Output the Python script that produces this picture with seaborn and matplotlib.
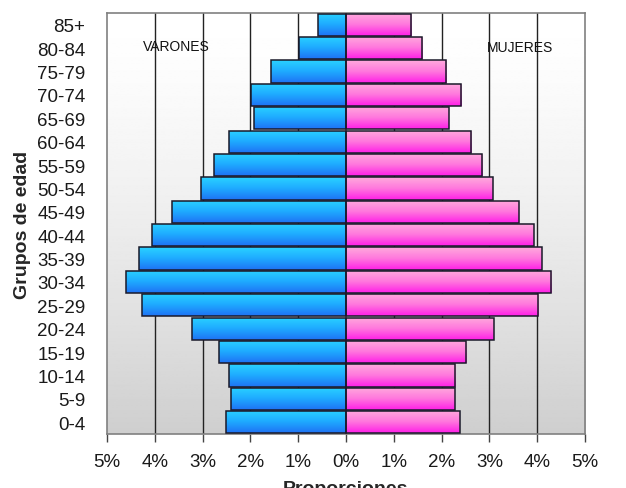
import numpy as np
import pandas as pd
import matplotlib
matplotlib.use("Agg")
import matplotlib.pyplot as plt
from matplotlib.colors import LinearSegmentedColormap
import seaborn as sns

# age groups, top to bottom as drawn
groups = ["85+", "80-84", "75-79", "70-74", "65-69", "60-64", "55-59", "50-54",
          "45-49", "40-44", "35-39", "30-34", "25-29", "20-24", "15-19",
          "10-14", "5-9", "0-4"]
varones = [0.59, 0.99, 1.56, 1.99, 1.93, 2.45, 2.76, 3.04, 3.63, 4.05,
           4.34, 4.61, 4.26, 3.23, 2.65, 2.44, 2.41, 2.51]
mujeres = [1.36, 1.59, 2.10, 2.41, 2.15, 2.62, 2.85, 3.07, 3.61, 3.93,
           4.10, 4.29, 4.02, 3.09, 2.52, 2.29, 2.27, 2.38]
xticks = [-5, -4, -3, -2, -1, 0, 1, 2, 3, 4, 5]

sns.set_style("white")
plt.rcParams['font.family'] = ['Liberation Sans', 'DejaVu Sans']

df = pd.DataFrame({"grupo": groups, "varones": varones, "mujeres": mujeres})
df["varones_neg"] = -df["varones"]

fig = plt.figure(figsize=(6.26, 4.89), dpi=100)
ax = fig.add_axes([107 / 626, 1 - 435 / 489, 478 / 626, 421 / 489])

sns.barplot(data=df, x="varones_neg", y="grupo", order=groups, color="#1e9cff",
            width=0.95, ax=ax)
sns.barplot(data=df, x="mujeres", y="grupo", order=groups, color="#ff66dd",
            width=0.95, ax=ax)

ax.set_xlim(-5, 5)
ylim = ax.get_ylim()

# background: white at top fading to grey at bottom
t = np.linspace(0, 1, 256)[:, None]
bg = 1 - 0.19 * t ** 1.4
ax.imshow(bg, cmap="gray", vmin=0, vmax=1, extent=(0, 1, 0, 1), origin="upper",
          transform=ax.transAxes, aspect="auto", zorder=0)

for v in [-4, -3, -2, -1, 1, 2, 3, 4]:
    ax.axvline(v, color="#222222", lw=1, zorder=1)

blue_cm = LinearSegmentedColormap.from_list("b", ["#2ad2ff", "#1eaaff", "#1f72f4"])
pink_cm = LinearSegmentedColormap.from_list("p", ["#ffaadd", "#ff77dd", "#ff1fe8"])
grad = np.linspace(0, 1, 64)[:, None]

# gradient fill clipped to each bar
for p in list(ax.patches):
    x0, w = p.get_x(), p.get_width()
    y0, h = p.get_y(), p.get_height()
    cm = blue_cm if x0 + w <= 0.001 else pink_cm
    im = ax.imshow(grad, cmap=cm, extent=(x0, x0 + w, y0 + h, y0), origin="upper",
                   aspect="auto", zorder=2)
    im.set_clip_path(p)
    p.set_facecolor("none")
    p.set_edgecolor("#1a1a2a")
    p.set_linewidth(1.1)
    p.set_zorder(3)

ax.set_xlim(-5, 5)
ax.set_ylim(ylim)

ax.set_xticks(xticks)
ax.set_xticklabels([f"{abs(v)}%" for v in xticks])
ax.tick_params(axis="x", bottom=True, length=6, width=1, color="#444444",
               pad=8, labelsize=13.5)
ax.tick_params(axis="y", left=False, pad=12, labelsize=13.5)
for lbl in ax.get_xticklabels() + ax.get_yticklabels():
    lbl.set_color("#1a1a1a")

for s in ax.spines.values():
    s.set_color("#808080")
    s.set_linewidth(1.2)

ax.set_xlabel("")
ax.set_ylabel("Grupos de edad", fontsize=14, fontweight="bold")
ax.yaxis.set_label_coords(-0.158, 0.5)

fig.text(176 / 626, 1 - 47 / 489, "VARONES", fontsize=10, ha="center", va="center",
         color="#111111")
fig.text(520 / 626, 1 - 48 / 489, "MUJERES", fontsize=10, ha="center", va="center",
         color="#111111")
fig.text(345 / 626, 1 - 481 / 489, "Proporciones", fontsize=14, fontweight="bold",
         ha="center", va="top")

fig.savefig("out.png", dpi=100)
